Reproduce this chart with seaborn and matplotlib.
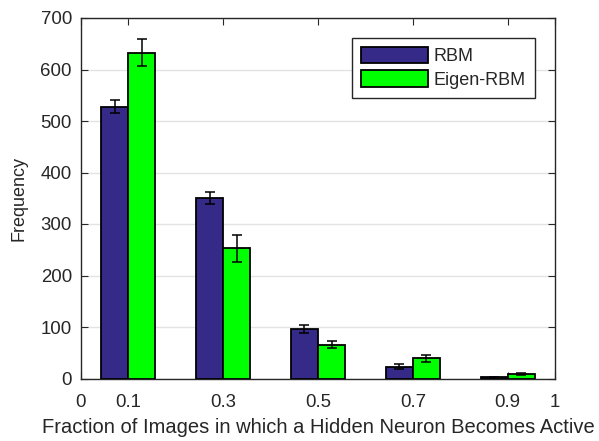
import matplotlib
matplotlib.use("Agg")
import matplotlib.pyplot as plt
import numpy as np
import pandas as pd
import seaborn as sns

# Fraction of images in which a hidden neuron becomes active (bin centres)
fractions = [0.1, 0.3, 0.5, 0.7, 0.9]
models = ["RBM", "Eigen-RBM"]
rbm_freq = [528, 350, 96, 23, 2]
rbm_err = [12, 12, 7, 5, 1]
eigen_freq = [633, 253, 66, 39, 8]
eigen_err = [27, 26, 6, 6, 2]

colors = {"RBM": "#352a87", "Eigen-RBM": "#00ff00"}

df = pd.DataFrame({
    "fraction": fractions * 2,
    "model": [models[0]] * len(fractions) + [models[1]] * len(fractions),
    "freq": rbm_freq + eigen_freq,
})
errs = {"RBM": rbm_err, "Eigen-RBM": eigen_err}

sns.set_theme(style="white")
plt.rcParams["font.family"] = ["Liberation Sans", "DejaVu Sans"]

TICK_FS = 13.4
XLAB_FS = 14.5
YLAB_FS = 13
LEG_FS = 13
TXT = "#262626"

fig = plt.figure(figsize=(5.99, 4.41), dpi=100)
ax = fig.add_axes([81 / 599, 1 - 378.5 / 441, 474 / 599, 360.5 / 441])

sns.barplot(data=df, x="fraction", y="freq", hue="model", hue_order=models,
            palette=colors, saturation=1, native_scale=True, width=0.57,
            gap=0, errorbar=None, edgecolor="black", linewidth=1.3, ax=ax,
            zorder=3)

# Error bars placed at the centres of the drawn bars
for container, name in zip(ax.containers, models):
    xs = [p.get_x() + p.get_width() / 2 for p in container.patches]
    ys = [p.get_height() for p in container.patches]
    ax.errorbar(xs, ys, yerr=errs[name], fmt="none", ecolor="black",
                elinewidth=1.1, capsize=3.5, capthick=1.1, zorder=4)

ax.set_xlim(0, 1)
ax.set_ylim(0, 700)
ax.set_xticks([0, 0.1, 0.3, 0.5, 0.7, 0.9, 1])
ax.set_xticklabels(["0", "0.1", "0.3", "0.5", "0.7", "0.9", "1"])
ax.set_yticks(np.arange(0, 701, 100))
ax.yaxis.grid(True, color="#e3e3e3", linewidth=1.0, zorder=0)
ax.xaxis.grid(False)
ax.set_axisbelow(True)

for s in ax.spines.values():
    s.set_visible(True)
    s.set_color(TXT)
    s.set_linewidth(1.0)

ax.tick_params(axis="both", which="both", direction="in", length=5,
               width=0.8, color=TXT, labelsize=TICK_FS, labelcolor=TXT,
               top=True, right=True, bottom=True, left=True)
ax.tick_params(axis="x", pad=11)
ax.tick_params(axis="y", pad=6.5)

ax.set_xlabel("Fraction of Images in which a Hidden Neuron Becomes Active",
              fontsize=XLAB_FS, color=TXT, labelpad=5)
ax.set_ylabel("Frequency", fontsize=YLAB_FS, color=TXT, labelpad=9)

leg = ax.legend(loc="upper right", bbox_to_anchor=(535 / 474 - 81 / 474, (378.5 - 37.5) / 360.5),
                borderaxespad=0, fontsize=LEG_FS, frameon=True, fancybox=False,
                edgecolor=TXT, framealpha=1, handlelength=3.7,
                handleheight=1.05, borderpad=0.5, labelspacing=0.3,
                handletextpad=0.35)
leg.get_frame().set_linewidth(1.0)
for t in leg.get_texts():
    t.set_color(TXT)

fig.savefig("out.png", dpi=100)
